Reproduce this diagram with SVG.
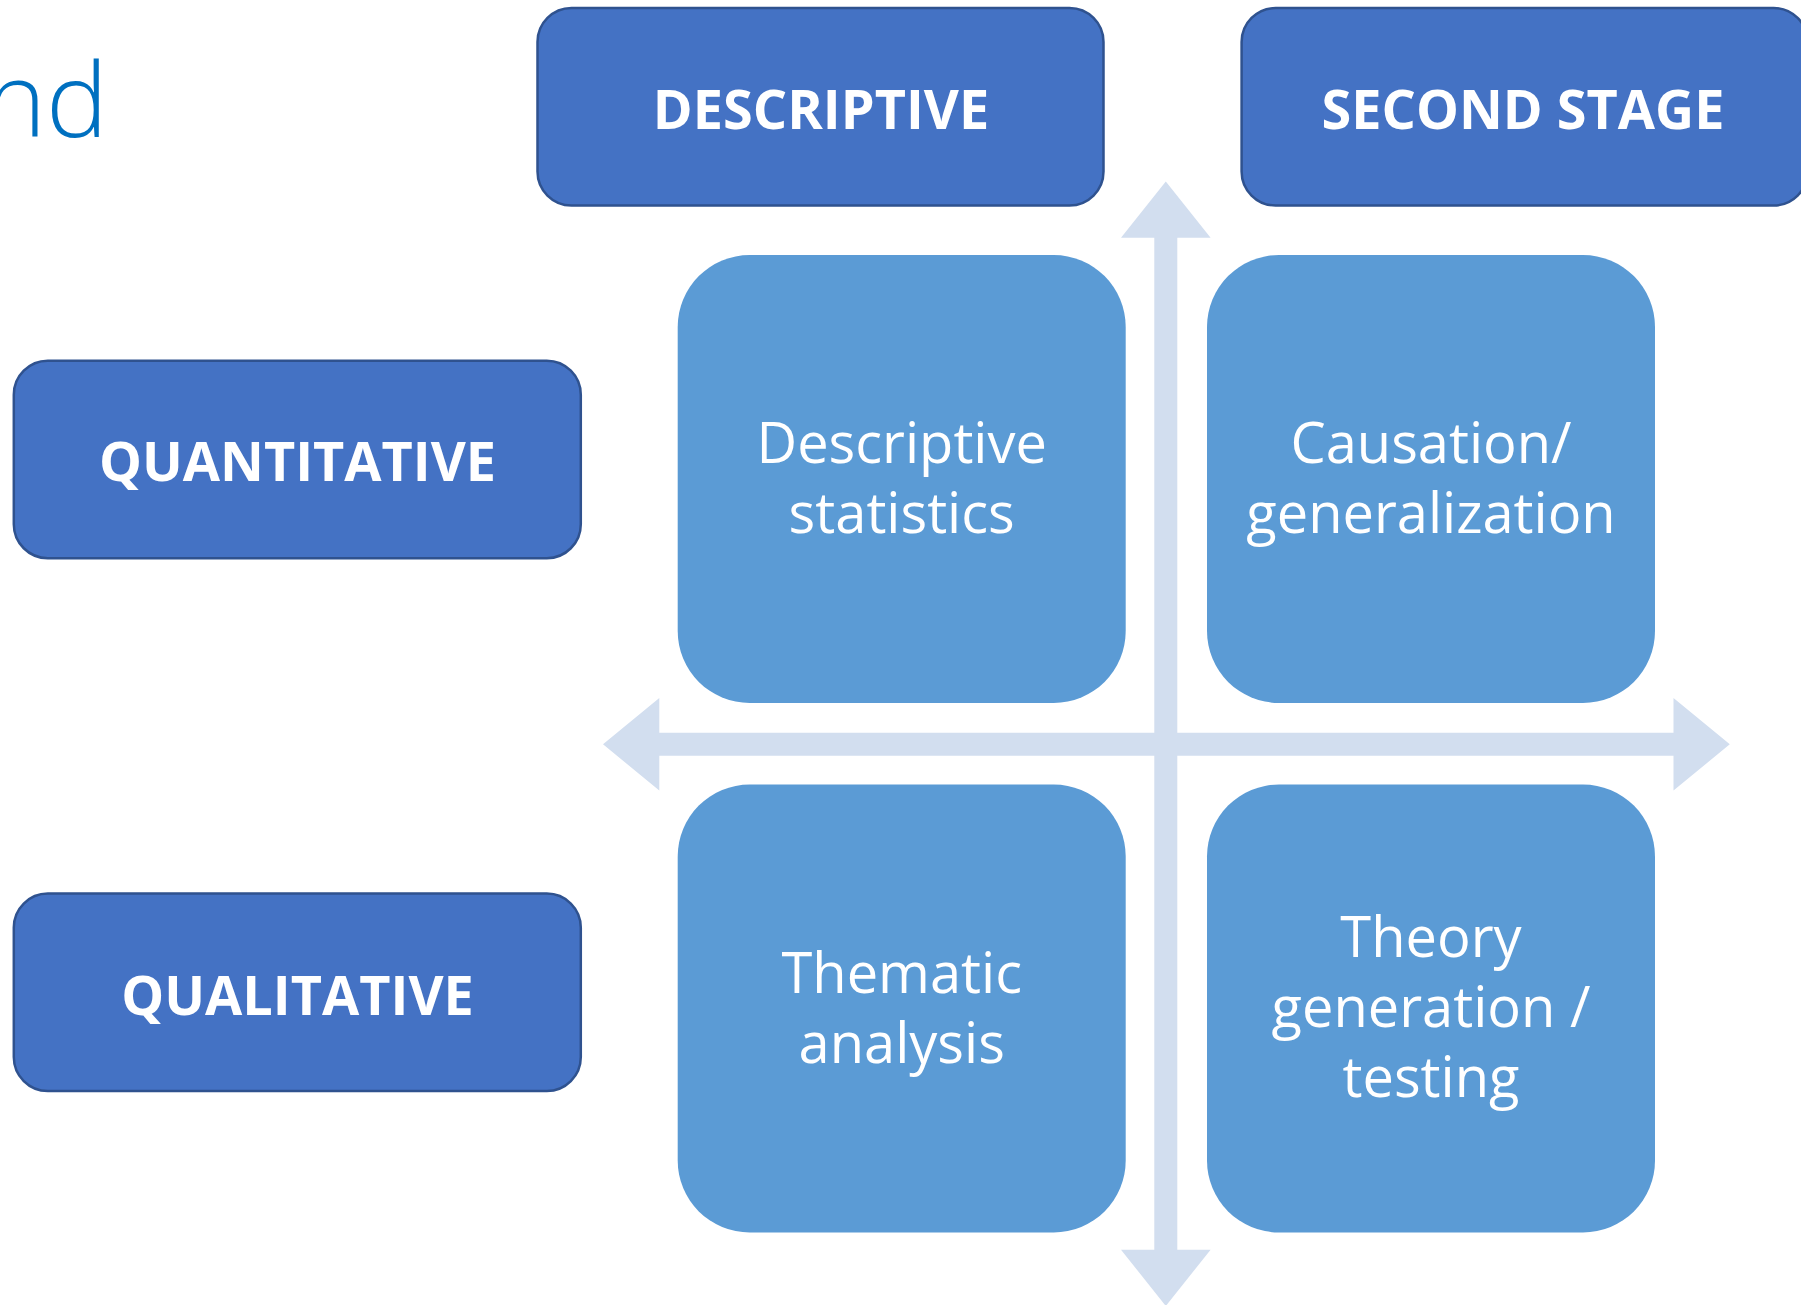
<svg xmlns="http://www.w3.org/2000/svg" width="1801" height="1305" viewBox="0 0 1801 1305">
  <style>
    .hdr rect { fill: #4472C4; stroke: #2F528F; stroke-width: 2.5; }
    .hdr text { fill: #FFFFFF; font-family: "Open Sans", "Liberation Sans", sans-serif; font-weight: 700; font-size: 54px; text-anchor: middle; }
    .cell rect { fill: #5B9BD5; }
    .cell text { fill: #FFFFFF; font-family: "Open Sans", "Liberation Sans", sans-serif; font-weight: 400; font-size: 56px; text-anchor: middle; }
    .axis { fill: #D2DEEF; }
    .title { fill: #0070C0; font-family: "Open Sans", "Liberation Sans", sans-serif; font-weight: 300; font-size: 104px; text-anchor: end; }
  </style>

  <!-- title fragment at the top-left edge -->
  <text class="title" x="108" y="137">nd</text>

  <!-- axes: two double-headed block arrows crossing in the middle -->
  <g id="connectors">
    <polygon class="axis" points="1165.8,181.5 1210.6,237.8 1177.3,237.8 1177.3,1249.7 1210.6,1249.7 1165.8,1306 1121,1249.7 1154.3,1249.7 1154.3,237.8 1121,237.8"/>
    <polygon class="axis" points="603,744.3 659.3,698 659.3,732.8 1673.5,732.8 1673.5,698 1729.8,744.3 1673.5,790.5 1673.5,755.8 659.3,755.8 659.3,790.5"/>
  </g>

  <!-- column headers -->
  <g id="descriptive" class="hdr">
    <rect x="537.5" y="8" width="566" height="197.5" rx="34" ry="34"/>
    <text x="821" y="128.5">DESCRIPTIVE</text>
  </g>
  <g id="second-stage" class="hdr">
    <rect x="1241.6" y="8" width="566" height="197.5" rx="34" ry="34"/>
    <text x="1523" y="128.5">SECOND STAGE</text>
  </g>

  <!-- row headers -->
  <g id="quantitative" class="hdr">
    <rect x="13.8" y="360.7" width="567" height="197.5" rx="34" ry="34"/>
    <text x="297.5" y="481">QUANTITATIVE</text>
  </g>
  <g id="qualitative" class="hdr">
    <rect x="13.8" y="893.6" width="567" height="197.5" rx="34" ry="34"/>
    <text x="297.5" y="1015.4">QUALITATIVE</text>
  </g>

  <!-- quadrant cells -->
  <g id="descriptive-statistics" class="cell">
    <rect x="677.7" y="255" width="448" height="448" rx="72" ry="72"/>
    <text x="901.7" y="463">Descriptive</text>
    <text x="901.7" y="533">statistics</text>
  </g>
  <g id="causation-generalization" class="cell">
    <rect x="1207" y="255" width="448" height="448" rx="72" ry="72"/>
    <text x="1431" y="463">Causation/</text>
    <text x="1431" y="533">generalization</text>
  </g>
  <g id="thematic-analysis" class="cell">
    <rect x="677.7" y="784.5" width="448" height="448" rx="72" ry="72"/>
    <text x="901.7" y="992.5">Thematic</text>
    <text x="901.7" y="1062.5">analysis</text>
  </g>
  <g id="theory-generation-testing" class="cell">
    <rect x="1207" y="784.5" width="448" height="448" rx="72" ry="72"/>
    <text x="1431" y="957">Theory</text>
    <text x="1431" y="1027">generation /</text>
    <text x="1431" y="1097">testing</text>
  </g>
</svg>
